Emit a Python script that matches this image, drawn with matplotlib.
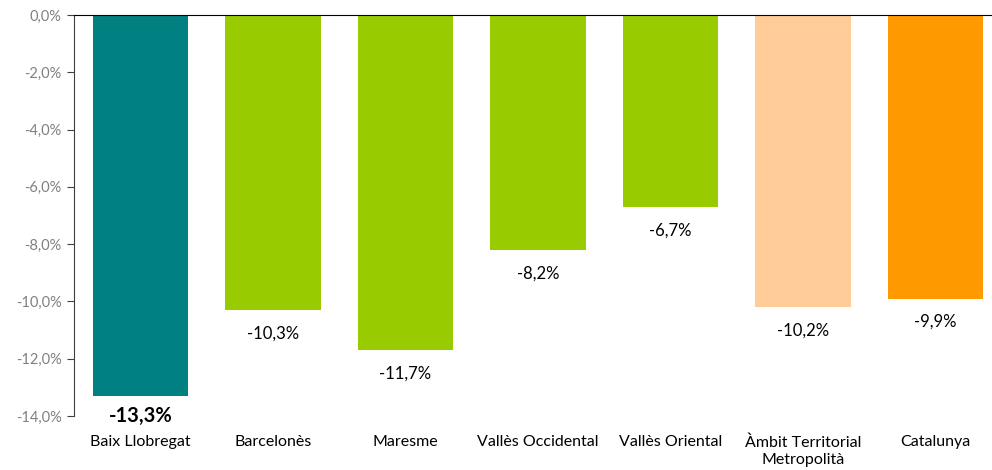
import matplotlib.pyplot as plt
import numpy as np

plt.rcParams['font.family'] = ['Lato', 'DejaVu Sans']

categories = ['Baix Llobregat', 'Barcelonès', 'Maresme', 'Vallès Occidental',
              'Vallès Oriental', 'Àmbit Territorial\nMetropolità', 'Catalunya']
values = [-13.3, -10.3, -11.7, -8.2, -6.7, -10.2, -9.9]
colors = ['#008080', '#99CC00', '#99CC00', '#99CC00', '#99CC00', '#FFCC99', '#FF9900']
yticks = [0, -2, -4, -6, -8, -10, -12, -14]

fig = plt.figure(figsize=(9.92, 4.7), dpi=100)
ax = fig.add_axes([74 / 992, (470 - 416) / 470, (1002 - 74) / 992, (416 - 15) / 470])

x = np.arange(len(categories))
ax.bar(x, values, width=0.72, color=colors)

ax.set_xlim(-0.5, len(categories) - 0.5)
ax.set_ylim(-14, 0)
ax.set_yticks(yticks)
ax.set_yticklabels([('%.1f%%' % v).replace('.', ',') for v in yticks],
                   color='#808080', fontsize=10.5)
ax.tick_params(axis='y', direction='out', length=5, color='#404040', pad=4)

ax.set_xticks(x)
ax.set_xticklabels(categories, fontsize=11.5, color='black', linespacing=1.25, va='top')
ax.tick_params(axis='x', length=0, pad=14)

for s in ['right', 'bottom']:
    ax.spines[s].set_visible(False)
ax.spines['top'].set_color('black')
ax.spines['left'].set_color('#404040')

for i, v in enumerate(values):
    txt = ('%.1f%%' % v).replace('.', ',')
    if i == 0:
        ax.annotate(txt, (i, v), xytext=(0, -7), textcoords='offset points',
                    ha='center', va='top', fontsize=14.5, fontweight='bold')
    else:
        ax.annotate(txt, (i, v), xytext=(0, -11), textcoords='offset points',
                    ha='center', va='top', fontsize=12)

fig.savefig('out.png', dpi=100)
